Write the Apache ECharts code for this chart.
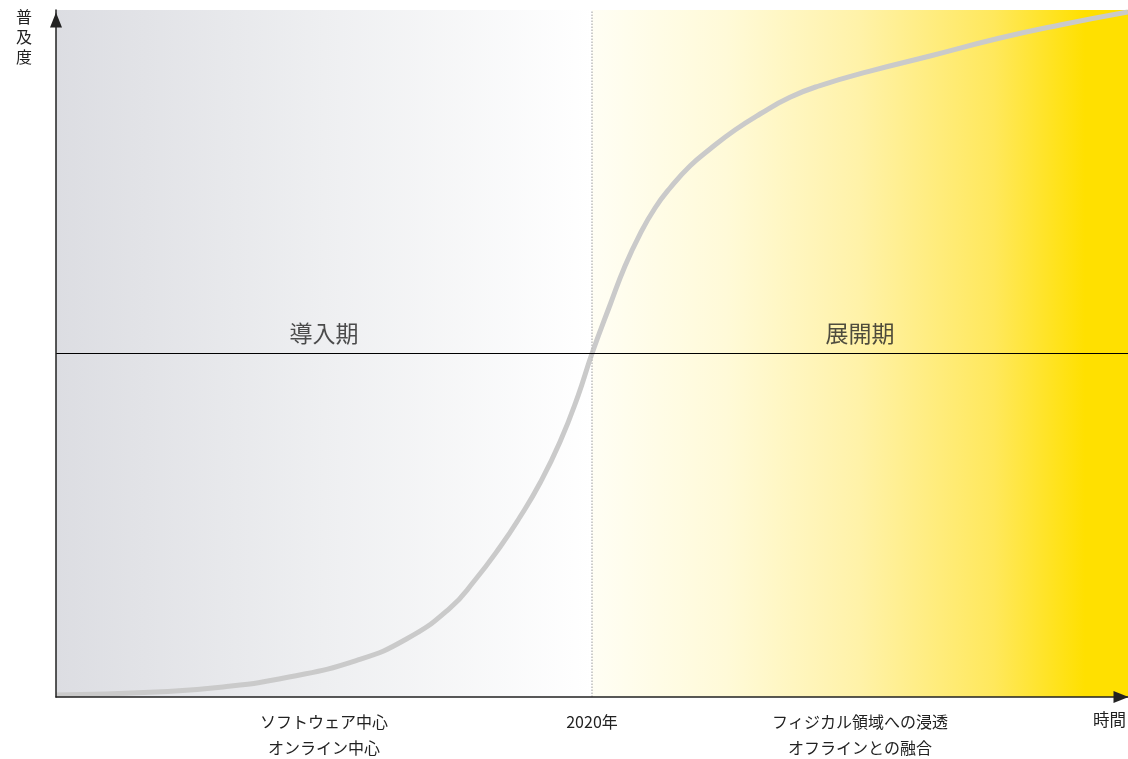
<!DOCTYPE html>
<html>
<head>
<meta charset="utf-8">
<script src="https://cdn.jsdelivr.net/npm/echarts@6/dist/echarts.min.js"></script>
<style>
html,body{margin:0;padding:0;background:#fff;}
#chart{width:1128px;height:759px;}
</style>
</head>
<body>
<div id="chart"></div>
<script>
// ---- data ----
const curveX = [0, 9.33, 15.58, 21.74, 28.0, 32.65, 36.75, 39.09, 41.42, 43.28, 45.15, 47.01, 48.69, 50.0,
                51.68, 53.08, 54.48, 55.88, 57.28, 59.14, 61.01, 63.34, 65.67, 68.47, 71.27, 75.93, 81.53, 88.06, 93.66, 100];
const curveY = [0.3, 0.73, 1.46, 2.91, 5.3, 8.4, 12.95, 17.03, 21.83, 26.2, 31.15, 37.12, 43.81, 50.0,
                57.06, 62.74, 67.39, 71.18, 74.09, 77.29, 79.77, 82.53, 84.86, 87.3, 89.0, 91.1, 93.30, 95.92, 97.82, 99.71];
const tickValues = [25, 50, 75];
const tickLabels = ['ソフトウェア中心\nオンライン中心', '2020年', 'フィジカル領域への浸透\nオフラインとの融合'];
const phaseX = [25, 75];
const phaseY = [53, 53];
const phaseNames = ['導入期', '展開期'];
const dividerX = 50;
const dividerY = 50;
const yAxisName = '普\n及\n度';
const xAxisName = '時間';

const FONT = '"Noto Sans CJK JP", "Noto Sans", sans-serif';
const chart = echarts.init(document.getElementById('chart'), null, {renderer: 'canvas'});

const curveData = curveX.map((x, i) => [x, curveY[i]]);
const phaseData = phaseX.map((x, i) => [x, phaseY[i], phaseNames[i]]);

const option = {
  animation: false,
  grid: {left: 56, right: 0, top: 10, bottom: 62, containLabel: false, outerBoundsMode: 'none'},
  xAxis: {
    type: 'value', min: 0, max: 100, interval: 25, z: 10,
    splitLine: {show: false},
    axisTick: {show: false},
    axisLine: {show: true, lineStyle: {color: '#222', width: 1.5}, symbol: ['none', 'triangle'], symbolSize: [12, 15], symbolOffset: [0, -7]},
    axisLabel: {
      margin: 12, color: '#222', fontSize: 16, lineHeight: 26, fontFamily: FONT,
      showMinLabel: true, showMaxLabel: true, hideOverlap: false,
      formatter: function (v) { const i = tickValues.indexOf(v); return i >= 0 ? tickLabels[i] : ''; }
    }
  },
  yAxis: {
    type: 'value', min: 0, max: 100, z: 10,
    splitLine: {show: false},
    axisTick: {show: false},
    axisLabel: {show: false},
    axisLine: {show: true, lineStyle: {color: '#222', width: 1.5}, symbol: ['none', 'triangle'], symbolSize: [12, 15], symbolOffset: [0, -10]}
  },
  graphic: [
    {type: 'text', left: 16, top: 7, style: {text: yAxisName, fontSize: 16, lineHeight: 20, fill: '#222', fontFamily: FONT}},
    {type: 'text', left: 1093, top: 711, style: {text: xAxisName, fontSize: 16.5, fill: '#222', fontFamily: FONT}}
  ],
  series: [
    {
      type: 'line', silent: true, z: 1,
      data: [],
      markArea: {
        silent: true,
        data: [
          [{xAxis: 0, yAxis: 0, itemStyle: {color: new echarts.graphic.LinearGradient(0, 0, 1, 0, [
            {offset: 0, color: '#dcdde2'}, {offset: 0.5, color: '#eeeff1'}, {offset: 1, color: '#ffffff'}])}}, {xAxis: dividerX, yAxis: 100}],
          [{xAxis: dividerX, yAxis: 0, itemStyle: {color: new echarts.graphic.LinearGradient(0, 0, 1, 0, [
            {offset: 0, color: '#fffef4'}, {offset: 0.25, color: '#fffad8'}, {offset: 0.5, color: '#fff2a8'},
            {offset: 0.75, color: '#ffe85c'}, {offset: 0.92, color: '#ffe000'}, {offset: 1, color: '#ffe000'}])}}, {xAxis: 100, yAxis: 100}]
        ]
      }
    },
    {
      type: 'line', silent: true, z: 3,
      data: curveData, smooth: 0.5, showSymbol: false, symbol: 'none',
      lineStyle: {color: '#cacaca', width: 5}
    },
    {
      type: 'line', silent: true, z: 4, data: [],
      markLine: {
        silent: true, symbol: ['none', 'none'], label: {show: false},
        data: [
          {xAxis: dividerX, lineStyle: {color: '#bdbdbd', type: 'dotted', width: 1.5}},
          {yAxis: dividerY, lineStyle: {color: '#000', type: 'solid', width: 1.2}}
        ]
      }
    },
    {
      type: 'scatter', silent: true, z: 5, symbolSize: 0,
      data: phaseData,
      label: {show: true, position: 'inside', formatter: p => p.data[2], fontSize: 23, color: '#222', fontFamily: FONT}
    }
  ]
};
chart.setOption(option);
</script>
</body>
</html>
